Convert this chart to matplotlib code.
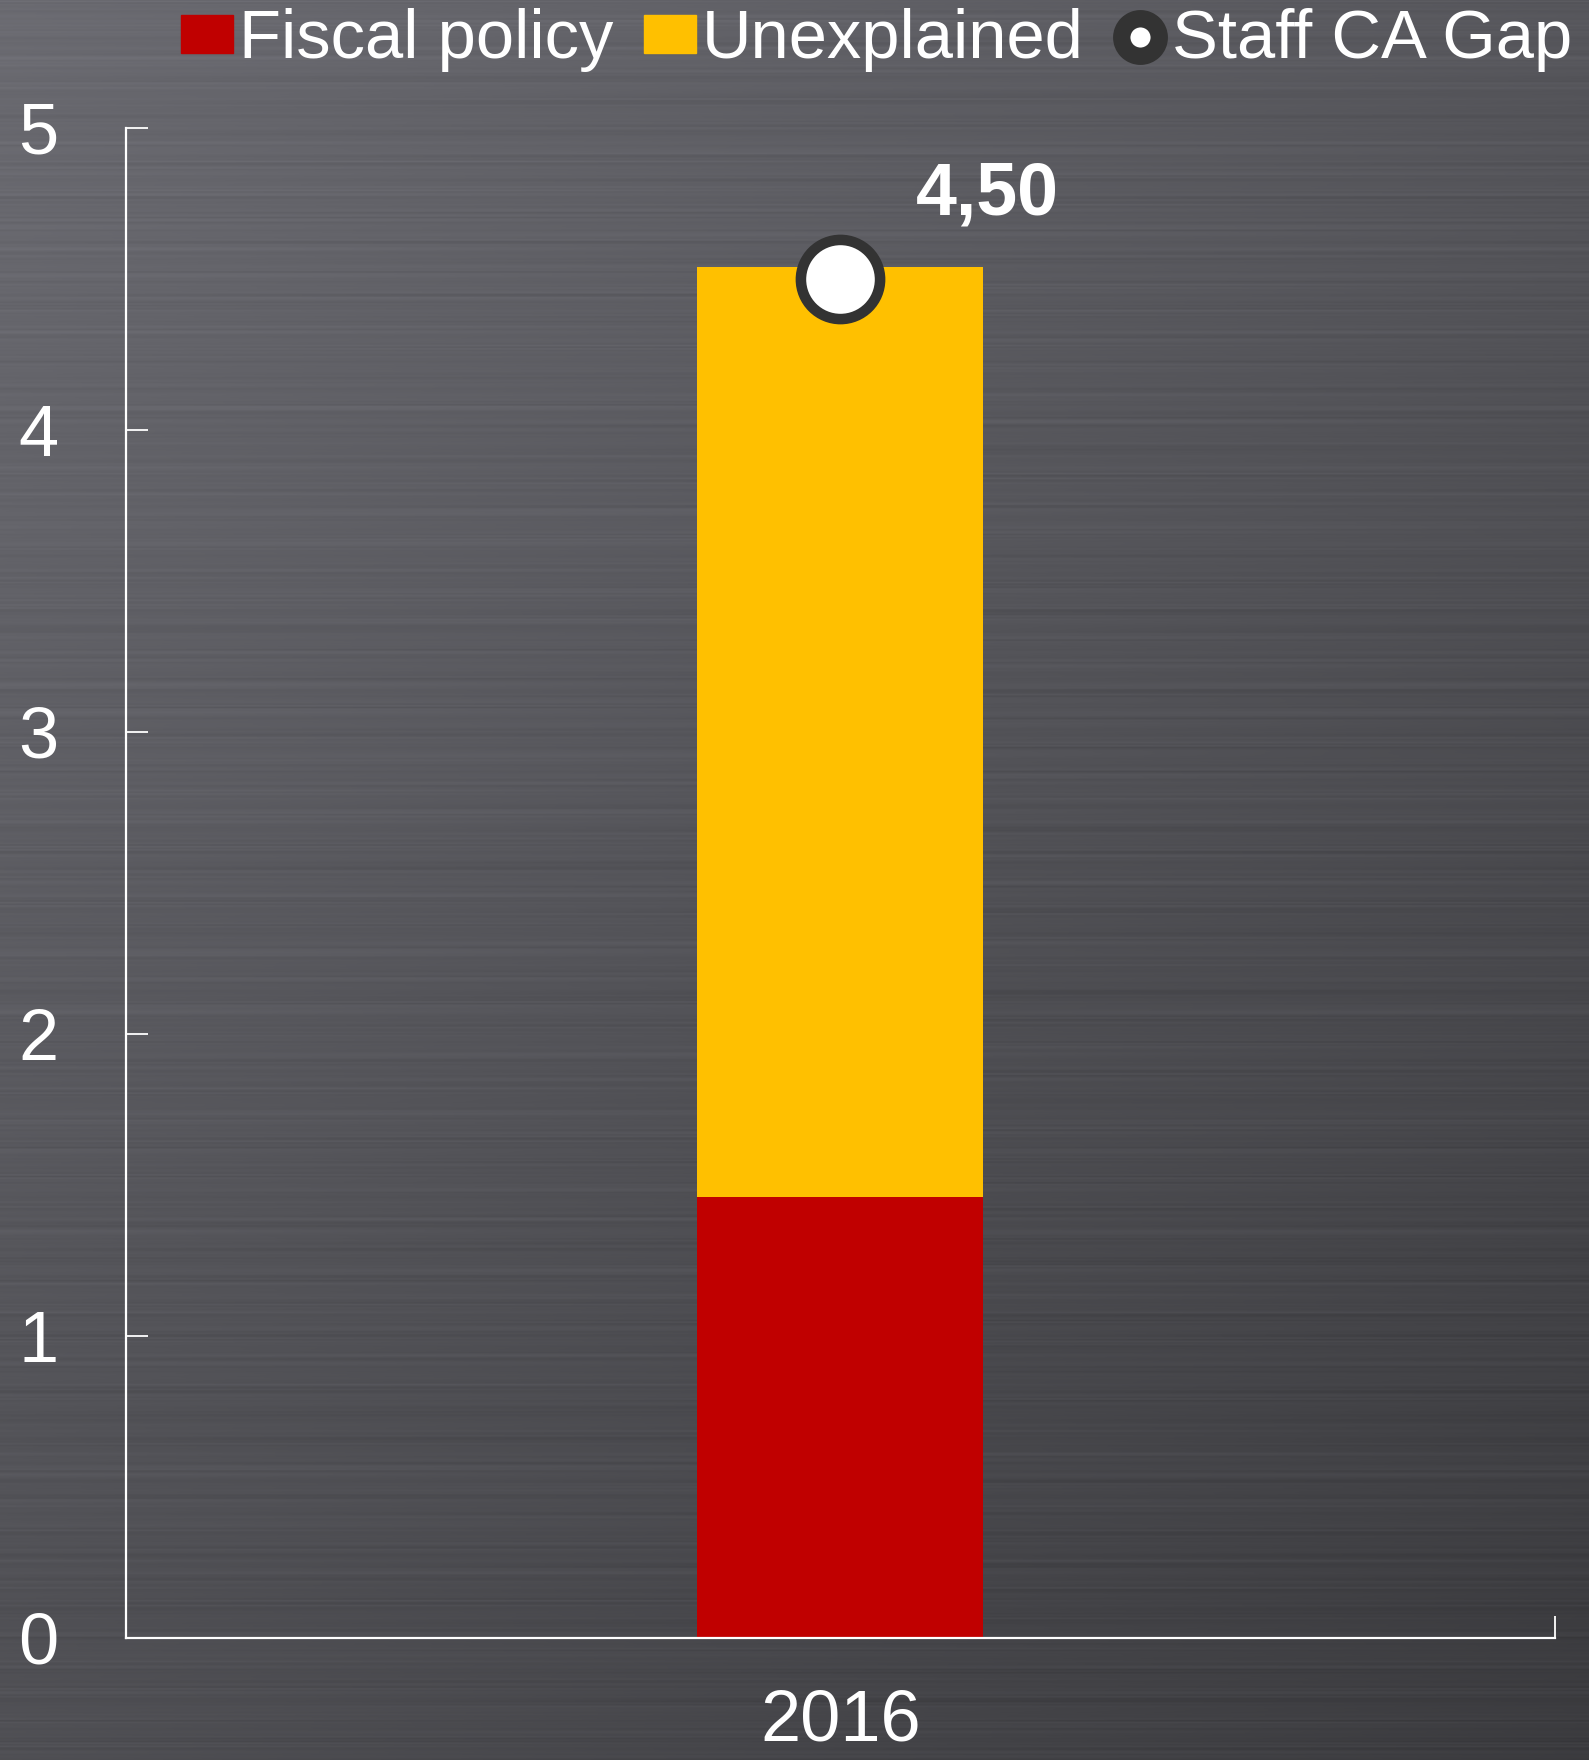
import numpy as np
import matplotlib.pyplot as plt
from matplotlib.lines import Line2D
from matplotlib.patches import Patch

# data
years = ["2016"]
fiscal_policy = [1.46]
unexplained = [3.08]
staff_ca_gap = [4.50]
gap_labels = ["4,50"]
y_ticks = [0, 1, 2, 3, 4, 5]

plt.rcParams['font.family'] = ['Liberation Sans', 'DejaVu Sans']

fig = plt.figure(figsize=(15.89, 17.6), dpi=100)

# brushed metal background (deterministic streaks, lighter top-left)
bg = fig.add_axes([0, 0, 1, 1], zorder=-10)
rows, cols = 1100, 400
yy, xx = np.mgrid[0:1:rows * 1j, 0:1:cols * 1j]
shade = 0.42 - 0.11 * yy - 0.08 * xx
r = np.arange(rows)
streak = np.sin(r * 12.9898) * 43758.5453
streak = streak - np.floor(streak) - 0.5
band = np.sin(xx * 7 + r[:, None] * 0.37)
shade = shade + 0.05 * streak[:, None] * (0.6 + 0.4 * band)
rgb = np.clip(np.dstack([shade, shade, shade * 1.06]), 0, 1)
bg.imshow(rgb, aspect='auto', extent=[0, 1, 0, 1], interpolation='bilinear')
bg.axis('off')

ax = fig.add_axes([0.079, 0.0696, 0.8997, 0.8577])
ax.set_facecolor('none')

x = np.arange(len(years))
ax.bar(x, fiscal_policy, 0.2, color='#C00000')
ax.bar(x, unexplained, 0.2, bottom=fiscal_policy, color='#FFC000')
ax.plot(x, staff_ca_gap, 'o', ms=57, mfc='white', mec='#333333', mew=7.6)

for xi, v, lab in zip(x, staff_ca_gap, gap_labels):
    ax.annotate(lab, (xi, v), xytext=(147, 64), textcoords='offset pixels',
                ha='center', va='baseline', color='white', fontsize=53,
                fontweight='bold')

ax.set_xlim(-0.5, 0.5)
ax.set_ylim(0, 5)
ax.set_yticks(y_ticks)
ax.set_xticks(x, years)
ax.set_xticks([-0.5, 0.5], minor=True)

for s in ['top', 'right']:
    ax.spines[s].set_visible(False)
for s in ['left', 'bottom']:
    ax.spines[s].set_color('white')
    ax.spines[s].set_linewidth(1.6)

ax.tick_params(axis='y', direction='in', length=15.8, width=1.3, color='white',
               labelcolor='white', labelsize=52, pad=48)
ax.tick_params(axis='x', which='major', length=0, labelcolor='white',
               labelsize=52, pad=37)
ax.tick_params(axis='x', which='minor', direction='in', length=15.8, width=1.3,
               color='white')

handles = [
    Patch(color='#C00000'),
    Patch(color='#FFC000'),
    Line2D([], [], marker='o', ls='none', ms=27, mfc='white', mec='#333333', mew=12.5),
]
fig.legend(handles, ['Fiscal policy', 'Unexplained', 'Staff CA Gap'],
           loc='center', bbox_to_anchor=(0.5516, 0.977), ncol=3, frameon=False,
           fontsize=49.5, labelcolor='white', handlelength=0.756, handleheight=0.48,
           handletextpad=0.08, columnspacing=0.45, borderpad=0, borderaxespad=0)

plt.savefig("out.png", dpi=100)
